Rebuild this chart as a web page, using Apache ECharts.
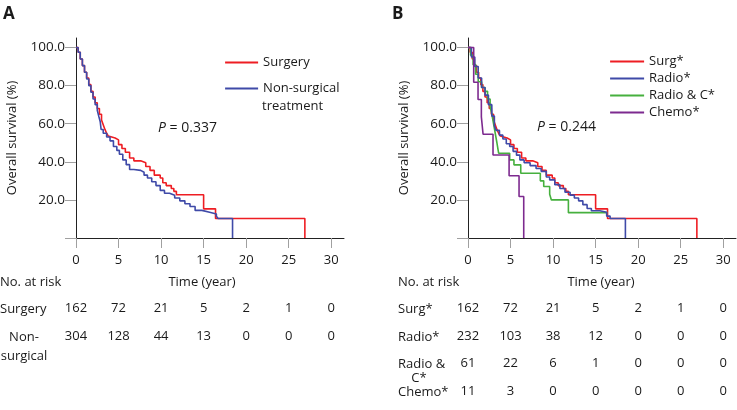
<!DOCTYPE html>
<html><head><meta charset="utf-8">
<script src="https://cdn.jsdelivr.net/npm/echarts@6/dist/echarts.min.js"></script>
<style>html,body{margin:0;padding:0;background:#fff}#c{width:737px;height:410px}</style>
</head><body><div id="c"></div>
<script>
// ---- data ----
const xTicks = [0, 5, 10, 15, 20, 25, 30];
const yTicks = [0, 20, 40, 60, 80, 100];
const yLabelTicks = [20, 40, 60, 80, 100];

const surgery = [[0,100],[0.25,97.5],[0.5,94],[0.75,90.5],[1.0,87],[1.25,84],[1.5,80.5],[1.75,77],[2.0,74],[2.25,71],[2.5,68],[2.75,65],[3.0,62],[3.2,59.5],[3.4,57],[3.6,55],[3.8,53.5],[4.0,52.5],[4.6,51.5],[5.0,49],[5.4,47],[5.8,45],[6.3,42],[6.8,40.5],[7.6,39.5],[8.2,37.5],[8.7,35.5],[9.2,33],[9.9,31.5],[10.2,29],[10.6,27.5],[11.2,26],[11.5,24.5],[11.8,22.7],[15.0,15.3],[16.4,10.2],[26.9,0]];
const nonSurgical = [[0,100],[0.25,97.5],[0.5,94],[0.75,90.5],[1.0,87],[1.25,83.5],[1.5,80],[1.75,76.5],[2.0,73],[2.25,70],[2.5,67],[2.7,63.5],[2.85,61],[2.95,57],[3.2,55],[3.6,53],[4.0,51],[4.4,48],[4.8,46],[5.1,44],[5.5,41],[5.9,38.5],[6.3,36],[6.8,35.5],[7.6,34.5],[8.0,33],[8.4,31.5],[8.9,29.5],[9.4,27.5],[9.9,25],[10.4,23.5],[11.0,22.5],[11.6,21],[12.2,19.5],[12.8,18],[13.4,16.5],[14.0,14.5],[14.8,13.5],[15.7,12.6],[16.5,11.4],[16.7,10.2],[18.4,0]];
const radio = [[0,100],[0.4,95],[0.8,90],[1.2,84],[1.6,79],[2.0,75],[2.4,70],[2.8,64],[3.1,59],[3.3,56.5],[3.7,54],[4.1,52],[4.5,49.5],[4.9,48],[5.3,45.5],[5.7,43.5],[6.1,41],[6.6,39.5],[7.3,38],[8.0,36.5],[8.6,35],[9.2,32],[9.6,30.5],[10.2,28],[10.8,26],[11.4,24],[12.0,22.5],[12.5,21],[13.0,19.5],[13.5,17.5],[14.0,15.5],[14.5,14.3],[15.5,13.5],[16.3,11.5],[16.7,10.2],[18.5,0]];
const radioChemo = [[0,100],[0.3,96],[0.6,91],[0.9,86],[1.2,82],[1.6,79],[2.0,77],[2.3,73],[2.6,69],[2.8,65],[3.0,60],[3.2,55],[3.4,50],[3.6,44.5],[4.9,41],[5.4,38.4],[6.2,34],[8.5,30],[8.9,27],[9.6,23],[9.8,20],[11.8,13.3],[16.4,13.3]];
const chemo = [[0,100],[0.67,81.8],[1.18,72.7],[1.57,63.6],[1.77,54.5],[2.94,43.6],[4.83,32.7],[6.0,21.8],[6.55,0]];

const riskSurgery = [162, 72, 21, 5, 2, 1, 0];
const riskNonSurgical = [304, 128, 44, 13, 0, 0, 0];
const riskSurg = [162, 72, 21, 5, 2, 1, 0];
const riskRadio = [232, 103, 38, 12, 0, 0, 0];
const riskRadioC = [61, 22, 6, 1, 0, 0, 0];
const riskChemo = [11, 3, 0, 0, 0, 0, 0];

// ---- chart ----
const FONT = '"Open Sans", "Noto Sans", sans-serif';
const TXT = '#1a1a1a';
const C = {red:'#ee1d23', blue:'#3f4aa8', green:'#46b03e', purple:'#7d2a8f'};

function mainX(g){return {gridIndex:g,type:'value',min:0,max:31.5,
  axisLine:{show:true,onZero:false,lineStyle:{color:'#222',width:1}},
  axisTick:{show:true,length:10,customValues:xTicks,lineStyle:{color:'#a0a0a0'}},
  axisLabel:{customValues:xTicks,margin:16,color:TXT,fontSize:13,fontFamily:FONT},
  splitLine:{show:false}};}
function riskX(g,arr,off){return {gridIndex:g,type:'value',min:0,max:31.5,position:'bottom',offset:off,
  axisLine:{show:false},axisTick:{show:false},splitLine:{show:false},
  axisLabel:{customValues:xTicks,margin:0,color:TXT,fontSize:13,fontFamily:FONT,
    formatter:function(v){return String(arr[Math.round(v/5)]);}}};}
function mainY(g){return {gridIndex:g,type:'value',min:0,max:105,
  axisLine:{show:true,onZero:false,lineStyle:{color:'#222',width:1}},
  axisTick:{show:true,length:11,customValues:yTicks,lineStyle:{color:'#a0a0a0'}},
  axisLabel:{customValues:yLabelTicks,margin:11,color:TXT,fontSize:13.5,fontFamily:FONT,
    formatter:function(v){return v.toFixed(1);}},
  name:'Overall survival (%)',nameLocation:'middle',nameGap:57,
  nameTextStyle:{color:TXT,fontSize:13,fontFamily:FONT},
  splitLine:{show:false}};}
function km(name,data,color,xi,yi){return {name:name,type:'line',step:'end',data:data,
  xAxisIndex:xi,yAxisIndex:yi,symbol:'none',lineStyle:{color:color,width:1.6},itemStyle:{color:color},
  emphasis:{disabled:true}};}
function txt(x,y,t,extra){return {type:'text',x:x,y:y,silent:true,
  style:Object.assign({text:t,fill:TXT,fontSize:13,fontFamily:FONT,align:'left',verticalAlign:'middle'},extra||{})};}

const legendCommon = {orient:'vertical',padding:0,itemHeight:14,selectedMode:false,
  itemStyle:{opacity:0},lineStyle:{width:2.2},
  textStyle:{color:TXT,fontSize:13,fontFamily:FONT}};

const option = {
  animation:false,
  grid:[{left:76,top:38,width:268,height:200},{left:468,top:38,width:268,height:200}],
  xAxis:[mainX(0),mainX(1),
    riskX(0,riskSurgery,64),riskX(0,riskNonSurgical,92),
    riskX(1,riskSurg,64),riskX(1,riskRadio,92),riskX(1,riskRadioC,119),riskX(1,riskChemo,147)],
  yAxis:[mainY(0),mainY(1)],
  legend:[
    Object.assign({},legendCommon,{left:224,top:56,itemWidth:33,itemGap:13,
     data:['Surgery','Non-surgical treatment'],
     formatter:function(n){return n==='Non-surgical treatment'?'Non-surgical':n;}}),
    Object.assign({},legendCommon,{left:609,top:55,itemWidth:34,itemGap:4,
     data:['Surg*','Radio*','Radio & C*','Chemo*']})
  ],
  series:[
    km('Surgery',surgery,C.red,0,0),
    km('Non-surgical treatment',nonSurgical,C.blue,0,0),
    km('Surg*',surgery,C.red,1,1),
    km('Radio & C*',radioChemo,C.green,1,1),
    km('Radio*',radio,C.blue,1,1),
    km('Chemo*',chemo,C.purple,1,1)
  ],
  graphic:[
    txt(3,14,'A',{fontSize:17,fontWeight:'bold'}),
    txt(392,14,'B',{fontSize:17,fontWeight:'bold'}),
    txt(262,106,'treatment'),
    txt(158,128,'{i|P} = 0.337',{fontSize:14,rich:{i:{fontStyle:'italic',fontSize:14,fontFamily:FONT,fill:TXT}}}),
    txt(537,127,'{i|P} = 0.244',{fontSize:14,rich:{i:{fontStyle:'italic',fontSize:14,fontFamily:FONT,fill:TXT}}}),
    txt(0,282,'No. at risk'),
    txt(202,282,'Time (year)',{align:'center'}),
    txt(0,309,'Surgery'),
    txt(24,337,'Non-',{align:'center'}),
    txt(24,356,'surgical',{align:'center'}),
    txt(398,282,'No. at risk'),
    txt(601,282,'Time (year)',{align:'center'}),
    txt(398,309,'Surg*'),
    txt(398,337,'Radio*'),
    txt(398,364,'Radio &'),
    txt(419,378,'C*',{align:'center'}),
    txt(398,392,'Chemo*')
  ]
};
const chart = echarts.init(document.getElementById('c'),null,{renderer:'canvas'});
chart.setOption(option);
</script></body></html>
